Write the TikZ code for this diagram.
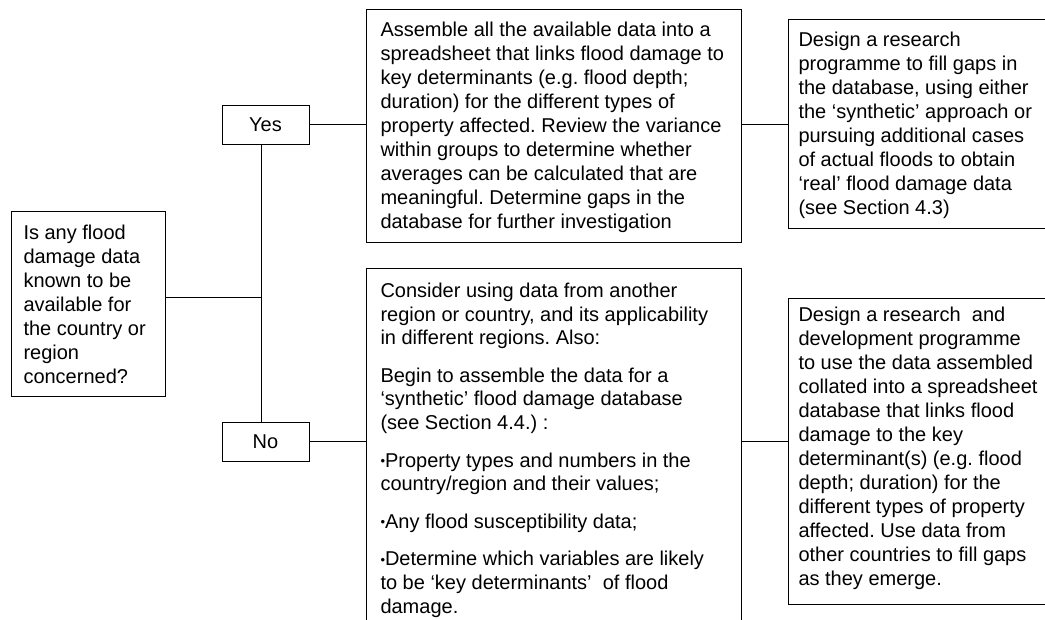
\documentclass[tikz,border=0pt]{standalone}
\usepackage{fontspec}
\setmainfont{Liberation Sans}
% top-aligned block of text of fixed width and height
\newcommand{\flowtext}[3]{\parbox[t][#2][t]{#1}{\raggedright\frenchspacing #3}}
% small list bullet
\newcommand{\dotmark}{{\fontsize{13}{13}\selectfont\raisebox{1.6pt}{•}}}
\begin{document}
\begin{tikzpicture}[x=1pt,y=-1pt,
  every node/.style={font=\fontsize{20}{24}\selectfont},
  box/.style={draw,line width=1pt,anchor=north west,align=left},
  answer/.style={draw,line width=1pt,minimum width=87pt,minimum height=39pt,inner sep=0pt},
  link/.style={line width=1pt}]
\useasboundingbox (0,0) rectangle (1045,619);
\clip (0,0) rectangle (1045,619);

% question
\node[box,inner xsep=12pt,inner ysep=13.5pt] (Q) at (11,211)
  {\flowtext{130pt}{158pt}{Is any flood\\damage data\\known to be\\available for\\the country or\\region\\concerned?}};

% answers
\node[answer] (Yes) at (265.5,124.5) {Yes};
\node[answer] (No) at (265.5,441.5) {No};

% actions
\node[box,inner xsep=14pt,inner ysep=13pt] (A) at (366,9)
  {\flowtext{347pt}{207pt}{Assemble all the available data into a\\
  spreadsheet that links flood damage to\\
  key determinants (e.g. flood depth;\\
  duration) for the different types of\\
  property affected. Review the variance\\
  within groups to determine whether\\
  averages can be calculated that are\\
  meaningful. Determine gaps in the\\
  database for further investigation}};

\node[box,inner xsep=14pt,inner ysep=14.5pt] (B) at (366,268)
  {\flowtext{347pt}{400pt}{\fontsize{20}{23.6}\selectfont\setlength{\parskip}{14pt}%
  Consider using data from another\\
  region or country, and its applicability\\
  in different regions. Also:\par
  Begin to assemble the data for a\\
  ‘synthetic’ flood damage database\\
  (see Section 4.4.) :\par
  \dotmark Property types and numbers in the\\
  country/region and their values;\par
  \dotmark Any flood susceptibility data;\par
  \dotmark Determine which variables are likely\\
  to be ‘key determinants’\ \ of flood\\
  damage.}};

\node[box,inner xsep=10pt,inner ysep=12.5pt] (C) at (788,19)
  {\flowtext{260pt}{184pt}{Design a research\\
  programme to fill gaps in\\
  the database, using either\\
  the ‘synthetic’ approach or\\
  pursuing additional cases\\
  of actual floods to obtain\\
  ‘real’ flood damage data\\
  (see Section 4.3)}};

\node[box,inner xsep=10pt,inner ysep=8.5pt] (D) at (788,298)
  {\flowtext{260pt}{289pt}{Design a research\ \ and\\
  development programme\\
  to use the data assembled\\
  collated into a spreadsheet\\
  database that links flood\\
  damage to the key\\
  determinant(s) (e.g. flood\\
  depth; duration) for the\\
  different types of property\\
  affected. Use data from\\
  other countries to fill gaps\\
  as they emerge.}};

% connectors
\coordinate (j) at (261,297);
\draw[link] (j -| Q.east) -- (j);
\draw[link] (Yes.south -| j) -- (No.north -| j);
\draw[link] (Yes.east) -- (Yes.east -| A.west);
\draw[link] (No.east) -- (No.east -| B.west);
\draw[link] (Yes.east -| A.east) -- (Yes.east -| C.west);
\draw[link] (No.east -| B.east) -- (No.east -| D.west);
\end{tikzpicture}
\end{document}
